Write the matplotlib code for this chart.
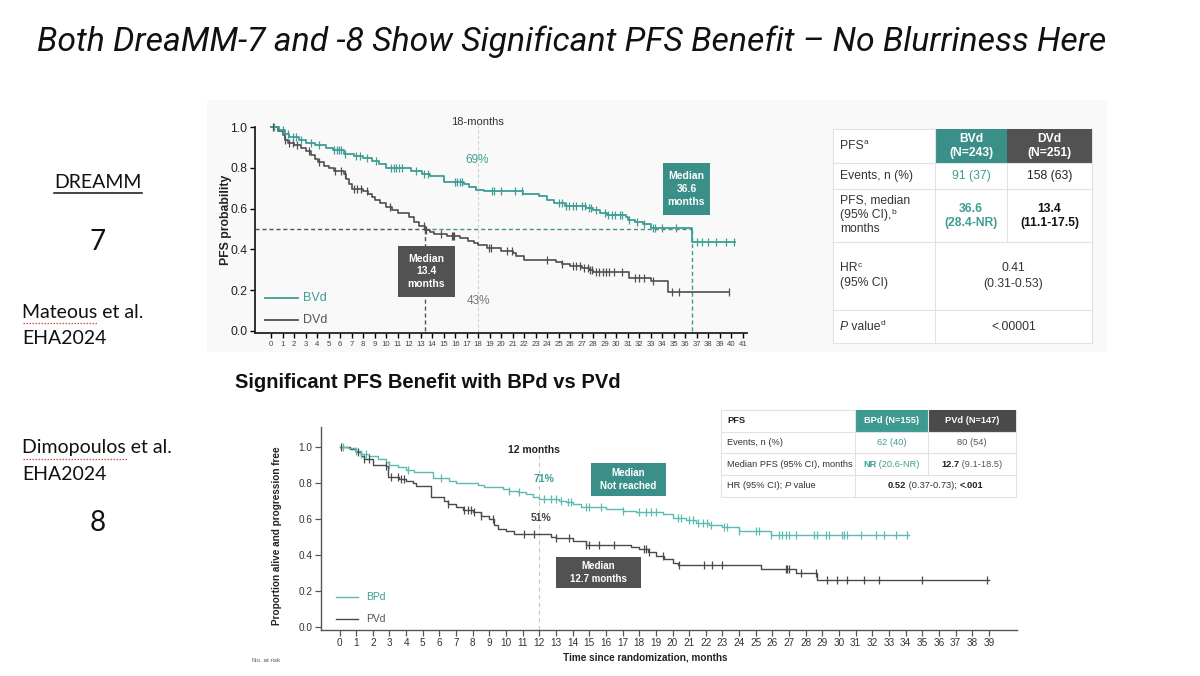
import numpy as np
import matplotlib
matplotlib.use('Agg')
import matplotlib.pyplot as plt
from matplotlib.patches import Rectangle

plt.rcParams['font.family'] = ['Liberation Sans', 'DejaVu Sans']

# ---------------- data ----------------
# DREAMM-7 (top chart): BVd vs DVd, Kaplan-Meier steps (time in months, PFS probability)
bvd_time = [0, 0.7, 1.2, 1.6, 2.4, 3.0, 3.8, 4.8, 5.4, 6.3, 7.2, 8.0, 8.8, 9.4, 10.0, 12.2, 13.1, 13.8, 15.0, 16.8,
            17.2, 17.8, 18.5, 21.9, 23.3, 24.0, 24.6, 25.5, 27.4, 28.0, 28.6, 29.2, 30.8, 31.0, 31.6, 32.3, 33.0, 36.6]
bvd_surv = [1.0, 0.985, 0.965, 0.95, 0.935, 0.92, 0.91, 0.895, 0.885, 0.87, 0.86, 0.85, 0.835, 0.82, 0.80, 0.785,
            0.77, 0.76, 0.73, 0.72, 0.705, 0.69, 0.685, 0.67, 0.66, 0.64, 0.625, 0.615, 0.605, 0.595, 0.58, 0.57,
            0.56, 0.545, 0.535, 0.525, 0.505, 0.435]
bvd_end = 40.3
bvd_cens = [0.3, 1.0, 1.5, 1.9, 2.2, 2.6, 3.5, 4.2, 5.5, 5.7, 5.9, 6.1, 6.4, 7.4, 7.7, 8.3, 9.1, 10.4, 10.7, 10.9,
            11.1, 11.4, 12.6, 13.3, 13.6, 16.0, 16.2, 16.4, 16.6, 19.2, 19.4, 20.0, 21.2, 21.8, 25.0, 25.3, 25.6,
            25.9, 26.2, 26.5, 27.0, 27.3, 27.6, 27.8, 28.2, 29.0, 29.3, 29.6, 29.9, 30.3, 30.5, 31.1, 31.8, 32.4,
            33.2, 33.4, 34.0, 35.2, 37.0, 37.4, 38.0, 38.7, 39.5, 40.2]

dvd_time = [0, 0.6, 1.0, 1.2, 1.5, 2.0, 2.6, 3.0, 3.5, 3.8, 4.1, 4.6, 5.0, 5.5, 6.3, 6.5, 6.8, 7.0, 8.0, 8.4,
            8.8, 9.0, 9.5, 10.0, 10.5, 11.0, 12.0, 12.4, 12.9, 13.4, 13.8, 14.2, 15.3, 16.4, 17.1, 17.6, 18.0, 18.8,
            20.0, 21.0, 21.3, 22.0, 24.8, 25.3, 26.0, 27.0, 27.6, 28.0, 31.1, 33.0, 34.5]
dvd_surv = [1.0, 0.98, 0.96, 0.935, 0.92, 0.91, 0.895, 0.88, 0.865, 0.845, 0.83, 0.81, 0.80, 0.785, 0.77, 0.745,
            0.72, 0.695, 0.685, 0.67, 0.655, 0.64, 0.625, 0.61, 0.595, 0.58, 0.56, 0.535, 0.515, 0.495, 0.485,
            0.475, 0.465, 0.455, 0.44, 0.43, 0.42, 0.405, 0.39, 0.38, 0.37, 0.35, 0.34, 0.33, 0.32, 0.31, 0.30,
            0.29, 0.26, 0.245, 0.19]
dvd_end = 39.8
dvd_cens = [0.2, 1.2, 1.6, 1.9, 2.3, 3.3, 4.2, 5.6, 6.1, 6.4, 7.2, 7.5, 7.8, 8.3, 10.3, 13.3, 13.5, 14.8, 15.7,
            15.8, 15.9, 18.9, 19.1, 20.5, 20.9, 24.0, 25.3, 26.2, 26.5, 26.8, 27.2, 27.5, 27.7, 27.9, 28.2, 28.5,
            28.8, 29.1, 29.4, 29.8, 30.5, 31.6, 32.0, 32.4, 33.2, 34.8, 35.4, 39.8]
top_median_bvd = 36.6
top_median_dvd = 13.4
top_landmark = 18

# DREAMM-8 (bottom chart): BPd vs PVd
bpd_time = [0, 0.5, 0.9, 1.3, 1.8, 2.3, 2.8, 3.0, 3.5, 4.0, 4.5, 5.6, 6.6, 7.0, 8.3, 8.7, 9.8, 10.2, 10.7, 11.2,
            11.6, 12.0, 13.2, 13.6, 14.0, 14.5, 16.0, 17.0, 17.8, 19.4, 20.0, 20.8, 21.4, 22.2, 23.0, 24.0, 25.9]
bpd_surv = [1.0, 0.99, 0.975, 0.96, 0.945, 0.93, 0.915, 0.90, 0.885, 0.87, 0.86, 0.825, 0.81, 0.795, 0.785,
            0.775, 0.765, 0.755, 0.745, 0.735, 0.72, 0.71, 0.70, 0.69, 0.68, 0.665, 0.655, 0.645, 0.635, 0.625,
            0.605, 0.59, 0.575, 0.565, 0.555, 0.53, 0.51]
bpd_end = 34.2
bpd_cens = [0.2, 1.0, 1.3, 1.6, 3.0, 4.1, 6.1, 10.2, 10.8, 12.3, 12.7, 13.0, 13.3, 13.7, 13.9, 14.8, 15.0, 15.7,
            17.0, 18.0, 18.4, 18.7, 19.0, 20.3, 20.5, 21.0, 21.2, 21.5, 21.8, 22.1, 22.3, 23.1, 23.3, 24.0, 25.0,
            25.2, 25.9, 26.4, 26.6, 26.8, 27.0, 27.4, 28.5, 28.7, 29.2, 29.4, 30.2, 30.3, 30.5, 31.3, 32.2, 32.7,
            33.4, 34.1]
pvd_time = [0, 0.6, 1.0, 1.3, 1.5, 2.0, 2.8, 2.9, 3.6, 4.0, 4.4, 4.6, 5.5, 6.3, 6.5, 7.0, 7.4, 8.0, 8.5, 9.0,
            9.3, 9.5, 10.0, 10.5, 12.7, 13.0, 14.0, 14.8, 17.5, 18.0, 18.5, 19.0, 19.5, 20.0, 20.3, 25.3, 27.4, 28.7]
pvd_surv = [1.0, 0.985, 0.97, 0.95, 0.93, 0.90, 0.89, 0.83, 0.82, 0.81, 0.795, 0.78, 0.72, 0.70, 0.68, 0.665,
            0.65, 0.635, 0.615, 0.60, 0.565, 0.545, 0.53, 0.515, 0.50, 0.49, 0.475, 0.455, 0.445, 0.43, 0.415,
            0.395, 0.375, 0.355, 0.34, 0.32, 0.30, 0.26]
pvd_end = 39.0
pvd_cens = [0.1, 1.1, 1.5, 1.8, 2.8, 3.1, 3.5, 3.7, 3.9, 6.5, 7.5, 7.7, 7.9, 8.1, 8.5, 9.2, 11.1, 11.7, 13.0,
            13.8, 14.8, 15.0, 15.6, 16.5, 18.3, 18.4, 18.6, 19.4, 20.4, 21.9, 22.4, 23.0, 26.8, 26.9, 27.0, 27.7,
            28.6, 29.3, 29.9, 30.5, 31.5, 32.4, 35.0, 38.9]
bot_landmark = 12

top_xticks = list(range(0, 42))
bot_xticks = list(range(0, 40))
y_ticks = [0.0, 0.2, 0.4, 0.6, 0.8, 1.0]

title = "Both DreaMM-7 and -8 Show Significant PFS Benefit \u2013 No Blurriness Here"

# ---------------- styling ----------------
TEAL = '#3e9d95'
TEAL_BOX = '#3a9088'
TEAL_B = '#5cbab1'
GRAY = '#4f4f4f'
DARK_BOX = '#525252'
GRID = '#e2e2e2'

W, H = 1200, 676
fig = plt.figure(figsize=(12, 6.76), dpi=100)


def px_axes(l, t, r, b, **kw):
    return fig.add_axes([l / W, 1 - b / H, (r - l) / W, (b - t) / H], **kw)


bg = px_axes(0, 0, W, H, zorder=0)
bg.set_xlim(0, W); bg.set_ylim(H, 0); bg.axis('off')
bg.add_patch(Rectangle((207, 100), 900, 252, color='#f9f9f9', lw=0))


def km(ax, t, s, end, cens, color, lw, ms):
    tt = list(t) + [end]
    ss = list(s) + [s[-1]]
    ax.step(tt, ss, where='post', color=color, lw=lw, zorder=3)
    idx = np.searchsorted(t, cens, side='right') - 1
    ax.plot(cens, np.asarray(s)[idx], ls='none', marker='|', ms=ms, mew=0.9, color=color, zorder=4)


# ---------------- top chart ----------------
ax1 = px_axes(255, 120.9, 747, 333.0, zorder=5)
ax1.patch.set_alpha(0)
ax1.set_xlim(-1.39, 41.35)
ax1.set_ylim(-0.01, 1.03)
for sp in ['top', 'right']:
    ax1.spines[sp].set_visible(False)
for sp in ['left', 'bottom']:
    ax1.spines[sp].set_color('#222')
    ax1.spines[sp].set_linewidth(1.3)
ax1.spines['left'].set_bounds(-0.01, 1.0)
ax1.set_xticks(top_xticks)
ax1.set_xticklabels([str(v) for v in top_xticks])
ax1.set_yticks(y_ticks)
ax1.set_yticklabels(['%.1f' % v for v in y_ticks])
ax1.tick_params(axis='x', length=3.5, width=1, labelsize=5.6, pad=2.5, labelcolor='#444')
ax1.tick_params(axis='y', length=3.5, width=1, labelsize=8.8, pad=2, labelcolor='#222')
ax1.axvline(top_landmark, ymin=0, ymax=0.98, color='#d0d0d0', lw=0.8, ls=(0, (3, 2)), zorder=1)
xl = ax1.get_xlim()[0]
ax1.plot([xl, top_median_dvd], [0.5, 0.5], color='#555', lw=1.0, ls=(0, (3, 2)), zorder=2)
ax1.plot([top_median_dvd, top_median_bvd], [0.5, 0.5], color='#4a8f8a', lw=1.0, ls=(0, (3, 2)), zorder=2)
ax1.plot([top_median_dvd, top_median_dvd], [0, 0.5], color='#555', lw=1.0, ls=(0, (3, 2)), zorder=2)
ax1.plot([top_median_bvd, top_median_bvd], [0, 0.5], color=TEAL, lw=1.0, ls=(0, (3, 2)), zorder=2)
km(ax1, dvd_time, dvd_surv, dvd_end, dvd_cens, GRAY, 1.2, 6)
km(ax1, bvd_time, bvd_surv, bvd_end, bvd_cens, TEAL, 1.3, 6)

# ---------------- bottom chart ----------------
ax2 = px_axes(320.7, 426.7, 1016.7, 630.0, zorder=5)
ax2.patch.set_alpha(0)
ax2.set_xlim(-1.13, 40.67)
ax2.set_ylim(-0.018, 1.11)
for sp in ['top', 'right']:
    ax2.spines[sp].set_visible(False)
for sp in ['left', 'bottom']:
    ax2.spines[sp].set_color('#555')
    ax2.spines[sp].set_linewidth(1.0)
ax2.set_xticks(bot_xticks)
ax2.set_xticklabels([str(v) for v in bot_xticks])
ax2.set_yticks(y_ticks)
ax2.set_yticklabels(['%.1f' % v for v in y_ticks])
ax2.tick_params(axis='x', length=4, width=0.9, labelsize=7.2, pad=2, labelcolor='#333', color='#555')
ax2.tick_params(axis='y', length=4, width=0.9, labelsize=7.2, pad=2, labelcolor='#333', color='#555')
ax2.axvline(bot_landmark, ymin=0, ymax=0.86, color='#c8c8c8', lw=0.8, ls=(0, (4, 3)), zorder=1)
km(ax2, pvd_time, pvd_surv, pvd_end, pvd_cens, '#4a4a4a', 1.0, 6)
km(ax2, bpd_time, bpd_surv, bpd_end, bpd_cens, TEAL_B, 1.0, 6)

# ---------------- foreground overlay ----------------
fg = px_axes(0, 0, W, H, zorder=10)
fg.patch.set_alpha(0)
fg.set_xlim(0, W); fg.set_ylim(H, 0); fg.axis('off')
R = fig.canvas.get_renderer()


def tw(s, **kw):
    a = fg.text(0, 0, 'x' + s + 'x', **kw)
    b = fg.text(0, 0, 'xx', **kw)
    w = a.get_window_extent(R).width - b.get_window_extent(R).width
    a.remove(); b.remove()
    return w


def rich(x, y, pieces, ha='left', size=8):
    ws = []
    for s, kw in pieces:
        k = dict(size=size); k.update(kw); k.pop('dy', None)
        ws.append(tw(s, **k))
    x0 = x - sum(ws) / 2 if ha == 'center' else x
    for (s, kw), w in zip(pieces, ws):
        k = dict(size=size); k.update(kw); dy = k.pop('dy', 0)
        fg.text(x0, y + dy, s, ha='left', va='center', **k)
        x0 += w


# title
t = fg.text(37, 42, title, fontfamily=['Roboto', 'DejaVu Sans'], style='italic', size=24, va='center', ha='left',
            color='#111')
w = t.get_window_extent(R).width
t.set_fontsize(24 * 1071 / w)

# left labels
LF = ['Lato', 'DejaVu Sans']
fg.text(98, 183, 'DREAMM', fontfamily=LF, size=14, ha='center', va='center', color='#111')
wd = tw('DREAMM', fontfamily=LF, size=14)
fg.plot([98 - wd / 2, 98 + wd / 2], [192.5, 192.5], color='#111', lw=1.1)
fg.text(98, 242, '7', fontfamily=LF, size=20, ha='center', va='center', color='#111')
fg.text(22, 312, 'Mateous et al.', fontfamily=LF, size=14, ha='left', va='center', color='#111')
fg.text(22, 339, 'EHA2024', fontfamily=LF, size=14, ha='left', va='center', color='#111')
fg.plot([23, 23 + tw('Mateous', fontfamily=LF, size=14)], [322.5, 322.5], color='#d04a4a', lw=0.9, ls=(0, (1.2, 1.2)))
fg.text(22, 448, 'Dimopoulos et al.', fontfamily=LF, size=14, ha='left', va='center', color='#111')
fg.text(22, 475, 'EHA2024', fontfamily=LF, size=14, ha='left', va='center', color='#111')
fg.plot([23, 23 + tw('Dimopoulos', fontfamily=LF, size=14)], [458.5, 458.5], color='#d04a4a', lw=0.9,
        ls=(0, (1.2, 1.2)))
fg.text(98, 523, '8', fontfamily=LF, size=20, ha='center', va='center', color='#111')

# top chart annotations
fg.text(226, 220, 'PFS probability', rotation=90, size=8.8, weight='bold', ha='center', va='center', color='#222')
fg.text(478, 122, '18-months', size=8, ha='center', va='center', color='#333')
fg.text(477, 160, '69%', size=8.5, ha='center', va='center', color=TEAL)
fg.text(478, 301, '43%', size=8.5, ha='center', va='center', color='#777')
fg.add_patch(Rectangle((663, 163), 47, 52, fc=TEAL_BOX, lw=0))
fg.text(686.5, 189, 'Median\n36.6\nmonths', size=7.5, weight='bold', color='white', ha='center', va='center',
        linespacing=1.35)
fg.add_patch(Rectangle((398, 246), 57, 51, fc=DARK_BOX, lw=0))
fg.text(426.5, 271.5, 'Median\n13.4\nmonths', size=7.5, weight='bold', color='white', ha='center', va='center',
        linespacing=1.35)
fg.plot([265, 298], [298, 298], color=TEAL, lw=1.3)
fg.text(303, 298, 'BVd', size=9, color=TEAL, va='center')
fg.plot([265, 298], [320, 320], color=GRAY, lw=1.3)
fg.text(303, 320, 'DVd', size=9, color='#555', va='center')

# top table
cx = [833, 935, 1007, 1092]
ry = [129, 163, 189, 242, 310, 343]
fg.add_patch(Rectangle((cx[0], ry[0]), cx[3] - cx[0], ry[-1] - ry[0], fc='white', ec=GRID, lw=0.8))
fg.add_patch(Rectangle((cx[1], ry[0]), cx[2] - cx[1], ry[1] - ry[0], fc=TEAL_BOX, lw=0))
fg.add_patch(Rectangle((cx[2], ry[0]), cx[3] - cx[2], ry[1] - ry[0], fc=DARK_BOX, lw=0))
for yy in ry[1:-1]:
    fg.plot([cx[0], cx[3]], [yy, yy], color=GRID, lw=0.8)
fg.plot([cx[1], cx[1]], [ry[0], ry[-1]], color=GRID, lw=0.8)
fg.plot([cx[2], cx[2]], [ry[1], ry[3]], color=GRID, lw=0.8)
TS = 8.7
c1 = (cx[1] + cx[2]) / 2
c2 = (cx[2] + cx[3]) / 2
cm = (cx[1] + cx[3]) / 2
rich(840, 146, [('PFS', dict(color='#333')), ('a', dict(color='#333', size=6, dy=-3))], size=TS)
fg.text(c1, 146, 'BVd\n(N=243)', size=TS, weight='bold', color='white', ha='center', va='center', linespacing=1.3)
fg.text(c2, 146, 'DVd\n(N=251)', size=TS, weight='bold', color='white', ha='center', va='center', linespacing=1.3)
fg.text(840, 176, 'Events, n (%)', size=TS, color='#333', va='center')
fg.text(c1, 176, '91 (37)', size=TS, color=TEAL, ha='center', va='center')
fg.text(c2, 176, '158 (63)', size=TS, color='#222', ha='center', va='center')
fg.text(840, 200.7, 'PFS, median', size=TS, color='#333', va='center')
rich(840, 215, [('(95% CI),', dict(color='#333')), ('b', dict(color='#333', size=6, dy=-3))], size=TS)
fg.text(840, 229.3, 'months', size=TS, color='#333', va='center')
fg.text(c1, 216, '36.6\n(28.4-NR)', size=TS, weight='bold', color=TEAL, ha='center', va='center', linespacing=1.3)
fg.text(c2, 216, '13.4\n(11.1-17.5)', size=TS, weight='bold', color='#111', ha='center', va='center',
        linespacing=1.3)
rich(840, 268.3, [('HR', dict(color='#333')), ('c', dict(color='#333', size=6, dy=-3))], size=TS)
fg.text(840, 283.3, '(95% CI)', size=TS, color='#333', va='center')
fg.text(cm, 276, '0.41\n(0.31-0.53)', size=TS, color='#333', ha='center', va='center', linespacing=1.35)
rich(840, 326.7, [('P', dict(color='#333', style='italic')), (' value', dict(color='#333')),
                  ('d', dict(color='#333', size=6, dy=-3))], size=TS)
fg.text(cm, 326.7, '<.00001', size=TS, color='#333', ha='center', va='center')

# bottom chart heading and annotations
fg.text(235, 383, 'Significant PFS Benefit with BPd vs PVd', size=14.5, weight='bold', color='#111', va='center')
fg.text(277, 536, 'Proportion alive and progression free', rotation=90, size=7.2, weight='bold', ha='center',
        va='center', color='#222')
fg.text(645, 658, 'Time since randomization, months', size=7.2, weight='bold', ha='center', va='center',
        color='#222')
fg.text(252, 660, 'No. at risk', size=4.5, color='#555', va='center')
fg.text(534, 450, '12 months', size=7.5, weight='bold', ha='center', va='center', color='#222')
fg.text(544, 479, '71%', size=7.5, weight='bold', ha='center', va='center', color=TEAL)
fg.text(541, 518, '51%', size=7.5, weight='bold', ha='center', va='center', color='#444')
fg.add_patch(Rectangle((591, 463), 75, 33, fc=TEAL_BOX, lw=0))
fg.text(628.5, 479.5, 'Median\nNot reached', size=7, weight='bold', color='white', ha='center', va='center',
        linespacing=1.3)
fg.add_patch(Rectangle((556, 557), 85, 31, fc=DARK_BOX, lw=0))
fg.text(598.5, 572.5, 'Median\n12.7 months', size=7, weight='bold', color='white', ha='center', va='center',
        linespacing=1.3)
fg.plot([336, 358], [597, 597], color=TEAL_B, lw=1.0)
fg.text(366, 597, 'BPd', size=7.5, color=TEAL, va='center')
fg.plot([336, 358], [619, 619], color='#4a4a4a', lw=1.0)
fg.text(366, 619, 'PVd', size=7.5, color='#555', va='center')

# bottom table
bx = [720.7, 855, 927.7, 1016]
by = [410, 431.7, 453.3, 475, 496.7]
fg.add_patch(Rectangle((bx[0], by[0]), bx[3] - bx[0], by[-1] - by[0], fc='white', ec=GRID, lw=0.8))
fg.add_patch(Rectangle((bx[1], by[0]), bx[2] - bx[1], by[1] - by[0], fc='#3d9a90', lw=0))
fg.add_patch(Rectangle((bx[2], by[0]), bx[3] - bx[2], by[1] - by[0], fc='#4a4a4a', lw=0))
for yy in by[1:-1]:
    fg.plot([bx[0], bx[3]], [yy, yy], color=GRID, lw=0.8)
fg.plot([bx[1], bx[1]], [by[0], by[-1]], color=GRID, lw=0.8)
fg.plot([bx[2], bx[2]], [by[0], by[3]], color=GRID, lw=0.8)
BS = 6.7
b1 = (bx[1] + bx[2]) / 2
b2 = (bx[2] + bx[3]) / 2
bm = (bx[1] + bx[3]) / 2
fg.text(727.3, 420.8, 'PFS', size=BS, weight='bold', color='#222', va='center')
fg.text(b1, 420.8, 'BPd (N=155)', size=BS, weight='bold', color='white', ha='center', va='center')
fg.text(b2, 420.8, 'PVd (N=147)', size=BS, weight='bold', color='white', ha='center', va='center')
fg.text(727.3, 442.5, 'Events, n (%)', size=BS, color='#333', va='center')
fg.text(b1, 442.5, '62 (40)', size=BS, color=TEAL, ha='center', va='center')
fg.text(b2, 442.5, '80 (54)', size=BS, color='#555', ha='center', va='center')
fg.text(727.3, 464.2, 'Median PFS (95% CI), months', size=BS, color='#333', va='center')
rich(b1, 464.2, [('NR', dict(weight='bold', color=TEAL)), (' (20.6-NR)', dict(color=TEAL))], ha='center', size=BS)
rich(b2, 464.2, [('12.7', dict(weight='bold', color='#222')), (' (9.1-18.5)', dict(color='#555'))], ha='center',
     size=BS)
rich(727.3, 485.8, [('HR (95% CI); ', dict(color='#333')), ('P', dict(color='#333', style='italic')),
                    (' value', dict(color='#333'))], size=BS)
rich(bm, 485.8, [('0.52', dict(weight='bold', color='#222')), (' (0.37-0.73); ', dict(color='#333')),
                 ('<.001', dict(weight='bold', color='#222'))], ha='center', size=BS)

fig.savefig('out.png', dpi=100)
